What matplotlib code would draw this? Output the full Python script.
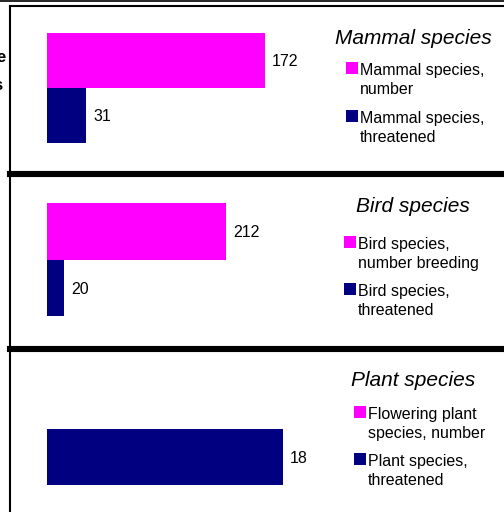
import matplotlib
matplotlib.use('Agg')
import matplotlib.pyplot as plt
from matplotlib.patches import Rectangle
from matplotlib.lines import Line2D

plt.rcParams['font.family'] = ['Liberation Sans', 'DejaVu Sans']

W, H = 504, 512

# data
titles = ['Mammal species', 'Bird species', 'Plant species']
labels_number = ['Mammal species,\nnumber', 'Bird species,\nnumber breeding',
                 'Flowering plant\nspecies, number']
labels_threat = ['Mammal species,\nthreatened', 'Bird species,\nthreatened',
                 'Plant species,\nthreatened']
number = [172, 212, None]
threatened = [31, 20, 18]

MAGENTA = '#FF00FF'
NAVY = '#000080'

# layout in pixels (top-down)
panels = [
    dict(top=6, bot=174, bar=(33, 143), ty=38, lx=346, ly=(62, 110), xmax=223),
    dict(top=174, bot=348.5, bar=(203, 316), ty=207, lx=344, ly=(236, 283), xmax=335),
    dict(top=348.5, bot=600, bar=(373, 485), ty=381, lx=354, ly=(406, 453), xmax=21.6),
]


def fx(px):
    return px / W


def fy(py):
    return 1 - py / H


fig = plt.figure(figsize=(W / 100, H / 100), dpi=100)

for k, p in enumerate(panels):
    # panel frame
    fr = fig.add_axes([fx(10), fy(p['bot']), fx(700), (p['bot'] - p['top']) / H])
    fr.set_xticks([])
    fr.set_yticks([])
    fr.patch.set_visible(False)
    for s in ['left', 'top', 'right']:
        fr.spines[s].set_linewidth(1.5)
    fr.spines['bottom'].set_linewidth(4.4)
    if k > 0:
        fr.spines['top'].set_visible(False)

    # bars
    b0, b1 = p['bar']
    ax = fig.add_axes([fx(47), fy(b1), fx(283), (b1 - b0) / H])
    ax.axis('off')
    ax.set_xlim(0, p['xmax'])
    ax.set_ylim(1.5, -0.5)
    vals = [number[k], threatened[k]]
    cols = [MAGENTA, NAVY]
    for i, v in enumerate(vals):
        if v is None:
            continue
        ax.barh(i, v, height=1.0, color=cols[i])
        ax.annotate(str(v), (v, i), xytext=(5, -1), textcoords='offset points',
                    ha='left', va='center', fontsize=11.5, annotation_clip=False)

    # title
    fig.text(fx(413), fy(p['ty']), titles[k], ha='center', va='center',
             fontsize=15, style='italic')

    # legend
    for y0, lab, c in zip(p['ly'], [labels_number[k], labels_threat[k]], cols):
        fig.add_artist(Rectangle((fx(p['lx']), fy(y0 + 12)), fx(12), 12 / H,
                                 transform=fig.transFigure, facecolor=c,
                                 edgecolor='none'))
        fig.text(fx(p['lx'] + 14), fy(y0 + 1), lab, ha='left', va='top',
                 fontsize=11.5, linespacing=1.3)

# top edge line and cut-off text at the left
fig.add_artist(Line2D([0, 1], [fy(0.5), fy(0.5)], transform=fig.transFigure,
                      color='black', lw=1.2))
fig.text(fx(6), fy(57), 'e', ha='right', va='center', fontsize=12, weight='bold')
fig.text(fx(3), fy(85), 's', ha='right', va='center', fontsize=12, weight='bold')

fig.savefig('out.png', dpi=100)
